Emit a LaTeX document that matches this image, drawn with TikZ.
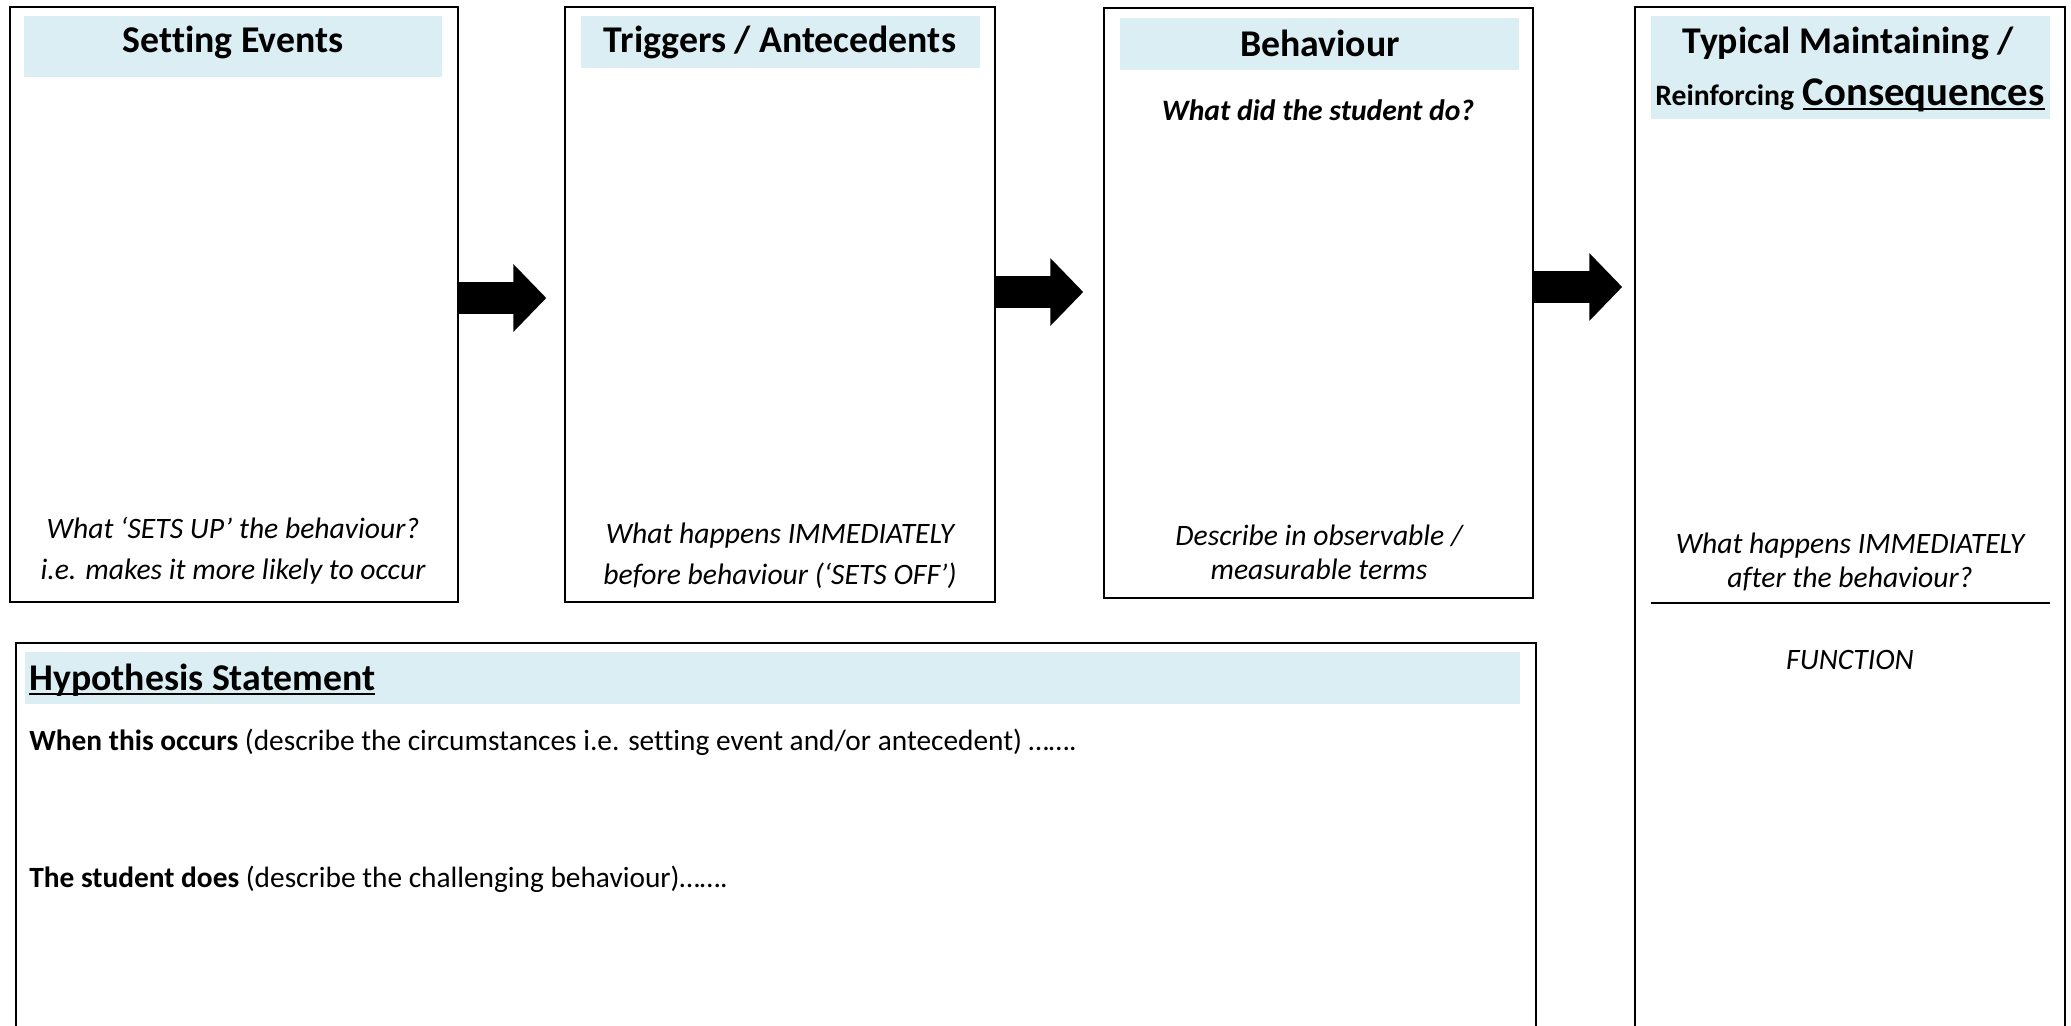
\documentclass[tikz,border=0pt]{standalone}
\usepackage{fontspec}
\setmainfont{Carlito}[Ligatures={TeX,NoCommon}]
\usetikzlibrary{positioning,fit,arrows.meta}
\definecolor{bandblue}{HTML}{DAEEF3}
\newcommand\thickul[1]{\setbox0\hbox{#1}\rlap{\rule[-2.6pt]{\wd0}{1.3pt}}\box0}

\begin{document}
\begin{tikzpicture}[x=0.54pt, y=-0.54pt,
  box/.style = {draw, line width=0.8pt, inner sep=0pt},
  band/.style = {fill=bandblue, inner sep=0pt},
  head/.style = {inner sep=0pt, font=\fontsize{20.4}{24}\selectfont\bfseries},
  note/.style = {inner sep=0pt, align=center, font=\fontsize{16}{18.5}\selectfont\itshape},
  wide/.style = {font=\fontsize{16}{22}\selectfont\itshape},
  body/.style = {inner sep=0pt, anchor=west, font=\fontsize{15.85}{19}\selectfont},
  blockarrow/.style = {line width=17.3pt, -{Triangle[length=17.8pt,width=35.6pt]}}]
\useasboundingbox (0,0) rectangle (2071,1025);
\clip (0,0) rectangle (2071,1025);
\node[box, fit={(10,7) (458,602)}] (se) {};
\node[box, fit={(565,7) (995,602)}] (ta) {};
\node[box, fit={(1104,8) (1533,598)}] (bh) {};
\node[box, fit={(1635,7) (2065,1045)}] (co) {};
\node[box, fit={(16,643) (1536,1045)}] (hy) {};
\node[band, fit={(24,16) (442,77)}] (seb) {};
\node[band, fit={(581,16) (980,68)}] (tab) {};
\node[band, fit={(1120,18) (1519,70)}] (bhb) {};
\node[band, fit={(1651,16) (2050,119)}] (cob) {};
\node[band, fit={(25,652) (1520,704)}] (hyb) {};
\node[head] (set) at (233,42) {Setting Events};
\node[head] (tri) at (780,42) {Triggers / Antecedents};
\node[head] (beh) at (1320,43) {Behaviour};
\node[head] (typ) at (1848,43) {Typical Maintaining /};
\node[head] (rei) at (1850,95) {{\fontsize{16}{19}\selectfont Reinforcing} {\fontsize{22}{26}\selectfont\thickul{Consequences}}};
\node[note, font=\fontsize{16}{18.5}\selectfont\bfseries\itshape] (what) at (1318,110) {What did the student do?};
\node[note, wide] (seq) at (233,551) {What ‘SETS UP’ the behaviour?\\i.e. makes it more likely to occur};
\node[note, wide] (taq) at (780,556) {What happens IMMEDIATELY\\before behaviour (‘SETS OFF’)};
\node[note] (bhq) at (1319,552) {Describe in observable /\\measurable terms};
\node[note] (coq) at (1850,562) {What happens IMMEDIATELY\\after the behaviour?};
\draw[line width=1.6pt] (cob.west |- 0,603) -- (cob.east |- 0,603);
\node[note] (fun) at (1850,660) {FUNCTION};
\node[head, anchor=west] (hyt) at (29,680) {\thickul{Hypothesis Statement}};
\node[body] (occ) at (29,742) {\textbf{When this occurs} (describe the circumstances i.e. setting event and/or antecedent) …….};
\node[body] (doe) at (29,879) {\textbf{The student does} (describe the challenging behaviour)…….};
\draw[blockarrow, shorten >=9.7pt] (se.east |- 0,298) -- (ta.west |- 0,298);
\draw[blockarrow, shorten >=10.8pt] (ta.east |- 0,292) -- (bh.west |- 0,292);
\draw[blockarrow, shorten >=6.5pt] (bh.east |- 0,287) -- (co.west |- 0,287);
\end{tikzpicture}
\end{document}
